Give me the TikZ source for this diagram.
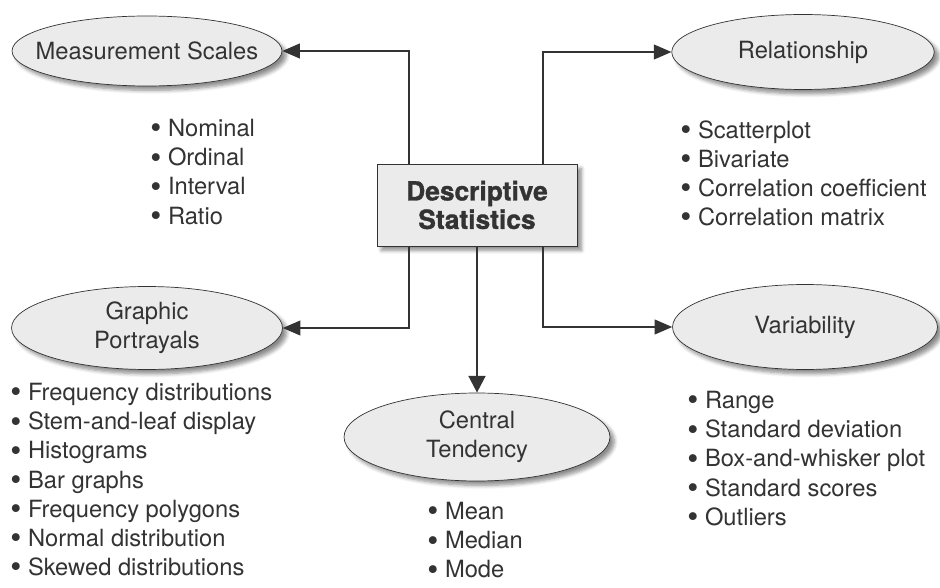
\documentclass[tikz,border=0pt]{standalone}
\usepackage{fontspec}
\setmainfont{TeX Gyre Heros}
\newfontfamily\heavyfont[FakeBold=1.2]{TeX Gyre Heros Bold}
\usetikzlibrary{shapes.geometric,shadows.blur,arrows.meta}
\definecolor{ink}{HTML}{333333}
\definecolor{bubble}{HTML}{EBEBEB}
\newcommand{\itm}{\raisebox{-1.3pt}{\fontsize{18}{18}\selectfont\textbullet}\ }

\begin{document}
\begin{tikzpicture}[x=0.02cm, y=-0.02cm,
  every node/.style={text=ink, font=\fontsize{13.5}{16.6}\selectfont},
  topic/.style={draw=ink, ellipse, fill=bubble, inner xsep=-1cm, inner ysep=0pt, align=center, minimum width=5.3cm, minimum height=1.4cm,
    blur shadow={shadow xshift=2.5pt, shadow yshift=-2.5pt, shadow blur steps=6, shadow opacity=45}},
  hub/.style={draw=ink, rectangle, fill=bubble, inner sep=0pt, align=center, minimum width=4cm, minimum height=1.64cm,
    font=\fontsize{15}{16.2}\selectfont\heavyfont,
    blur shadow={shadow xshift=2.5pt, shadow yshift=-2.5pt, shadow blur steps=6, shadow opacity=45}},
  items/.style={anchor=north west, inner sep=0pt, align=left},
  link/.style={draw=ink, line width=0.7pt, -{Triangle[length=10pt,width=8.5pt]}}]
\useasboundingbox (0,0) rectangle (940,588);

% Centre box
\node[hub] (stats) at (477,205) {Descriptive\\Statistics};

% Topic ellipses
\node[topic, minimum width=5.4cm] (scales) at (147,51) {Measurement Scales};
\node[topic, minimum width=5.25cm, minimum height=1.5cm] (relation) at (803,52) {Relationship};
\node[topic, minimum width=5.42cm, minimum height=1.66cm] (graphic) at (147,328) {Graphic\\Portrayals};
\node[topic, minimum height=1.7cm] (variab) at (805,327) {Variability};
\node[topic, minimum width=5.32cm, minimum height=1.76cm] (central) at (477,437) {Central\\Tendency};

% Bullet lists
\node[items] (scalesitems) at (150,119) {\itm Nominal\\\itm Ordinal\\\itm Interval\\\itm Ratio};
\node[items] (relationitems) at (680,120) {\itm Scatterplot\\\itm Bivariate\\\itm Correlation coefficient\\\itm Correlation matrix};
\node[items] (graphicitems) at (10,383) {\itm Frequency distributions\\\itm Stem-and-leaf display\\\itm Histograms\\\itm Bar graphs\\\itm Frequency polygons\\\itm Normal distribution\\\itm Skewed distributions};
\node[items] (centralitems) at (427,502) {\itm Mean\\\itm Median\\\itm Mode};
\node[items] (variabitems) at (687,391) {\itm Range\\\itm Standard deviation\\\itm Box-and-whisker plot\\\itm Standard scores\\\itm Outliers};

% Connectors
\coordinate (lcol) at (409,0);
\coordinate (rcol) at (543,0);
\draw[link] (stats.north -| lcol) |- (scales);
\draw[link] (stats.south -| lcol) |- (graphic);
\draw[link] (stats.north -| rcol) |- (relation);
\draw[link] (stats.south -| rcol) |- (variab);
\draw[link, line width=1.4pt, -{Triangle[length=9.5pt,width=9.5pt]}] (stats) -- (central);
\end{tikzpicture}
\end{document}
